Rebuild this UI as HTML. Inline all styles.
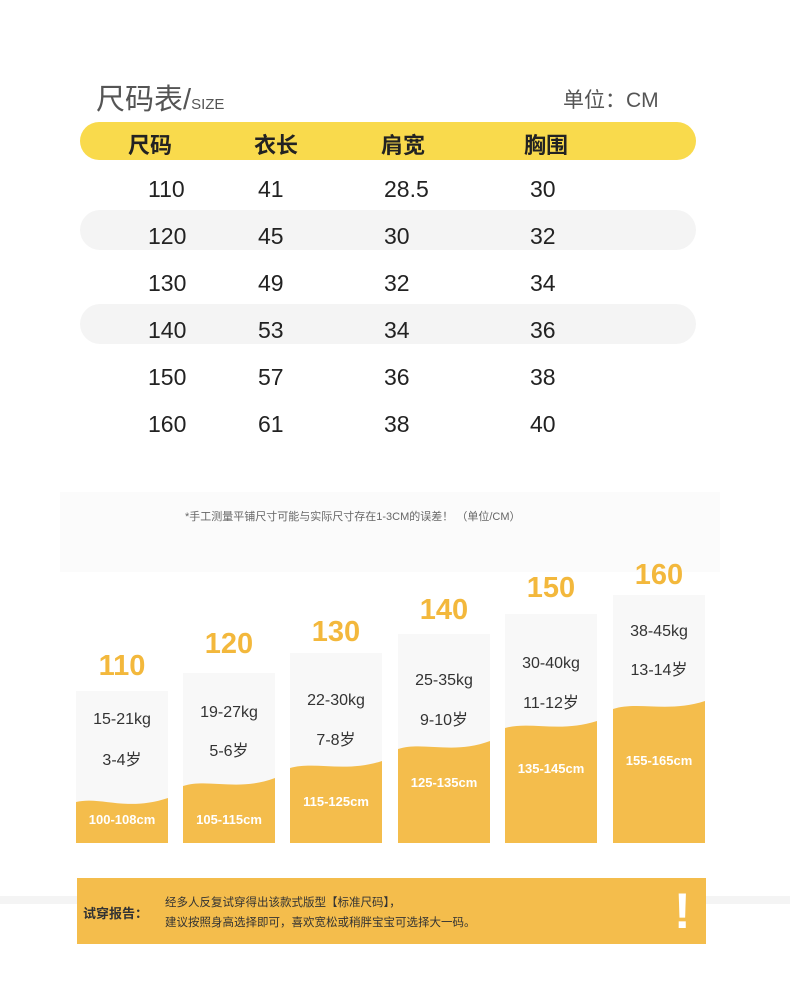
<!DOCTYPE html>
<html><head><meta charset="utf-8"><style>
body{margin:0;width:790px;height:1000px;background:#fff;position:relative;overflow:hidden;font-family:"Liberation Sans","Noto Sans CJK SC",sans-serif;}
.a{position:absolute;white-space:nowrap}
.pill{position:absolute;left:80px;width:616px;border-radius:20px}
.r{position:absolute;font-size:23px;color:#222;line-height:1}
.col{position:absolute;bottom:157px;width:92px;background:#f8f8f8;overflow:hidden}
.col svg{position:absolute;left:0;bottom:0}
.num{position:absolute;font-size:29px;font-weight:bold;color:#f3b83c;width:92px;text-align:center}
.t{position:absolute;width:92px;text-align:center;font-size:16px;color:#333}
.c{position:absolute;width:92px;text-align:center;font-size:13px;color:#fff;font-weight:bold}
</style></head><body>
<div class="a" style="left:96px;top:76px;font-size:29px;color:#555">尺码表/<span style="font-size:15px">SIZE</span></div>
<div class="a" style="left:563px;top:84px;font-size:21px;color:#555">单位：CM</div>
<div class="pill" style="top:122px;height:38px;background:#f9da4c"></div>
<div class="a" style="left:128px;top:128px;font-size:22px;font-weight:bold;color:#222">尺码</div>
<div class="a" style="left:254px;top:128px;font-size:22px;font-weight:bold;color:#222">衣长</div>
<div class="a" style="left:381px;top:128px;font-size:22px;font-weight:bold;color:#222">肩宽</div>
<div class="a" style="left:524px;top:128px;font-size:22px;font-weight:bold;color:#222">胸围</div>
<div class="pill" style="top:210px;height:40px;background:#f4f4f4"></div>
<div class="pill" style="top:304px;height:40px;background:#f4f4f4"></div>
<div class="r" style="left:148px;top:178px">110</div><div class="r" style="left:258px;top:178px">41</div><div class="r" style="left:384px;top:178px">28.5</div><div class="r" style="left:530px;top:178px">30</div>
<div class="r" style="left:148px;top:225px">120</div><div class="r" style="left:258px;top:225px">45</div><div class="r" style="left:384px;top:225px">30</div><div class="r" style="left:530px;top:225px">32</div>
<div class="r" style="left:148px;top:272px">130</div><div class="r" style="left:258px;top:272px">49</div><div class="r" style="left:384px;top:272px">32</div><div class="r" style="left:530px;top:272px">34</div>
<div class="r" style="left:148px;top:319px">140</div><div class="r" style="left:258px;top:319px">53</div><div class="r" style="left:384px;top:319px">34</div><div class="r" style="left:530px;top:319px">36</div>
<div class="r" style="left:148px;top:366px">150</div><div class="r" style="left:258px;top:366px">57</div><div class="r" style="left:384px;top:366px">36</div><div class="r" style="left:530px;top:366px">38</div>
<div class="r" style="left:148px;top:413px">160</div><div class="r" style="left:258px;top:413px">61</div><div class="r" style="left:384px;top:413px">38</div><div class="r" style="left:530px;top:413px">40</div>

<div class="a" style="left:60px;top:492px;width:660px;height:80px;background:#fbfbfb"></div>
<div class="a" style="left:185px;top:508px;font-size:11px;color:#666">*手工测量平铺尺寸可能与实际尺寸存在1-3CM的误差！ （单位/CM）</div>

<!-- columns -->
<div class="col" style="left:76px;height:152px"><svg width="92" height="45"><path d="M0 4 C25 -2,50 14,92 0 L92 45 L0 45Z" fill="#f4bd4c"/></svg></div>
<div class="col" style="left:183px;height:170px"><svg width="92" height="65"><path d="M0 8 C25 0,55 14,92 0 L92 65 L0 65Z" fill="#f4bd4c"/></svg></div>
<div class="col" style="left:290px;height:190px"><svg width="92" height="82"><path d="M0 7 C25 0,55 12,92 0 L92 82 L0 82Z" fill="#f4bd4c"/></svg></div>
<div class="col" style="left:398px;height:209px"><svg width="92" height="102"><path d="M0 8 C25 0,55 14,92 0 L92 102 L0 102Z" fill="#f4bd4c"/></svg></div>
<div class="col" style="left:505px;height:229px"><svg width="92" height="122"><path d="M0 7 C25 0,55 12,92 0 L92 122 L0 122Z" fill="#f4bd4c"/></svg></div>
<div class="col" style="left:613px;height:248px"><svg width="92" height="142"><path d="M0 8 C25 0,55 12,92 0 L92 142 L0 142Z" fill="#f4bd4c"/></svg></div>

<div class="num" style="left:76px;top:650px">110</div>
<div class="num" style="left:183px;top:628px">120</div>
<div class="num" style="left:290px;top:616px">130</div>
<div class="num" style="left:398px;top:594px">140</div>
<div class="num" style="left:505px;top:572px">150</div>
<div class="num" style="left:613px;top:559px">160</div>

<div class="t" style="left:76px;top:711px">15-21kg</div><div class="t" style="left:76px;top:746px">3-4岁</div><div class="c" style="left:76px;top:812px">100-108cm</div>
<div class="t" style="left:183px;top:704px">19-27kg</div><div class="t" style="left:183px;top:737px">5-6岁</div><div class="c" style="left:183px;top:812px">105-115cm</div>
<div class="t" style="left:290px;top:692px">22-30kg</div><div class="t" style="left:290px;top:726px">7-8岁</div><div class="c" style="left:290px;top:794px">115-125cm</div>
<div class="t" style="left:398px;top:672px">25-35kg</div><div class="t" style="left:398px;top:706px">9-10岁</div><div class="c" style="left:398px;top:775px">125-135cm</div>
<div class="t" style="left:505px;top:655px">30-40kg</div><div class="t" style="left:505px;top:689px">11-12岁</div><div class="c" style="left:505px;top:761px">135-145cm</div>
<div class="t" style="left:613px;top:623px">38-45kg</div><div class="t" style="left:613px;top:656px">13-14岁</div><div class="c" style="left:613px;top:753px">155-165cm</div>

<div class="a" style="left:0;top:896px;width:790px;height:8px;background:#f4f4f4"></div>
<div class="a" style="left:77px;top:878px;width:629px;height:66px;background:#f4bd4c"></div>
<div class="a" style="left:83px;top:903px;font-size:13px;font-weight:bold;color:#333">试穿报告：</div>
<div class="a" style="left:165px;top:893px;font-size:11.5px;color:#333;line-height:20px">经多人反复试穿得出该款式版型【标准尺码】，<br>建议按照身高选择即可，喜欢宽松或稍胖宝宝可选择大一码。</div>
<div class="a" style="left:674px;top:882px;font-size:50px;font-weight:bold;color:#fff">!</div>
</body></html>
